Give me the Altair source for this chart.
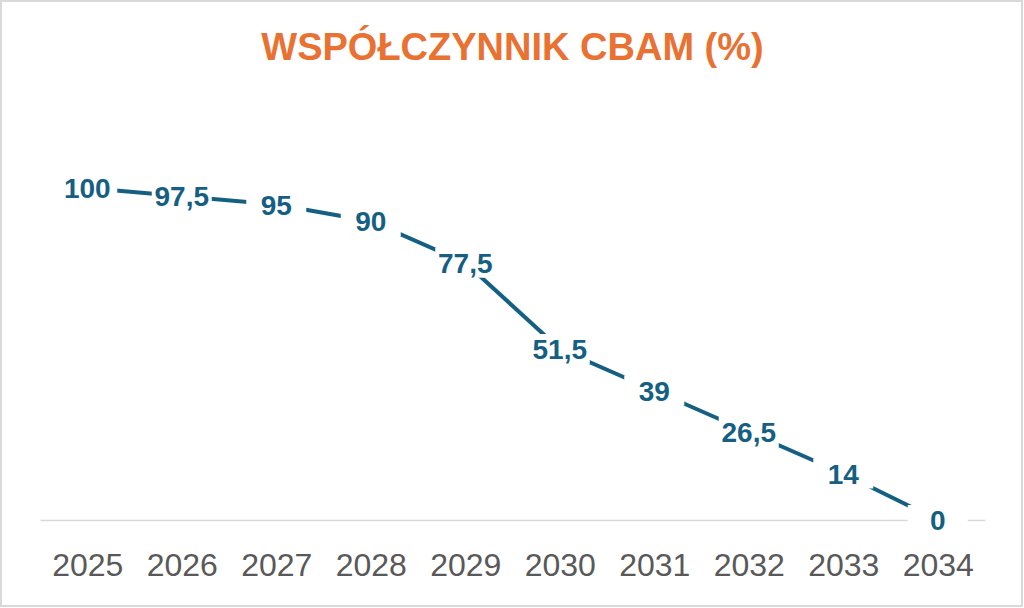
import altair as alt
import pandas as pd

# CBAM coefficient by year (%)
years = ["2025", "2026", "2027", "2028", "2029", "2030", "2031", "2032", "2033", "2034"]
values = [100, 97.5, 95, 90, 77.5, 51.5, 39, 26.5, 14, 0]
labels = ["100", "97,5", "95", "90", "77,5", "51,5", "39", "26,5", "14", "0"]

df = pd.DataFrame({"rok": years, "wartosc": values, "etykieta": labels})

BLUE = "#156082"
ORANGE = "#E97132"

x = alt.X("rok:N", sort=years,
          scale=alt.Scale(type="point", padding=0.5),
          axis=alt.Axis(title=None, labelAngle=0, ticks=False,
                        labelFontSize=32, labelColor="#595959",
                        labelFont="Liberation Sans", labelPadding=30,
                        domainColor="#d9d9d9", domainWidth=1.5))
y = alt.Y("wartosc:Q", scale=alt.Scale(domain=[0, 130]), axis=None)

base = alt.Chart(df).encode(x=x, y=y)

line = base.mark_line(color=BLUE, strokeWidth=4)

# white label boxes that interrupt the line
boxes = base.mark_point(
    shape="M-1,-0.5L1,-0.5L1,0.5L-1,0.5Z",
    size=3600, filled=True, fill="white", opacity=1, strokeWidth=0,
)

text = base.mark_text(
    font="Liberation Sans", fontSize=28, fontWeight="bold",
    color=BLUE, baseline="middle", align="center", dy=2,
).encode(text="etykieta:N")

# outer frame around the whole figure
frame = alt.Chart(df).mark_rect(
    fill=None, stroke="#d9d9d9", strokeWidth=2
).encode(
    x=alt.value(-39), x2=alt.value(982),
    y=alt.value(-87.4), y2=alt.value(517.6),
)

chart = alt.layer(frame, line, boxes, text).properties(
    width=945,
    height=431.6,
    title=alt.TitleParams(
        text="WSPÓŁCZYNNIK CBAM (%)",
        font="Liberation Sans", fontSize=38, fontWeight="bold",
        color=ORANGE, anchor="middle", baseline="alphabetic", offset=-98,
    ),
    autosize=alt.AutoSizeParams(type="none"),
    padding={"left": 40, "top": 88.4, "right": 39, "bottom": 88},
    background="white",
).configure_view(strokeWidth=0)

chart.save("out.html", embed_options={"renderer": "svg", "actions": False})
